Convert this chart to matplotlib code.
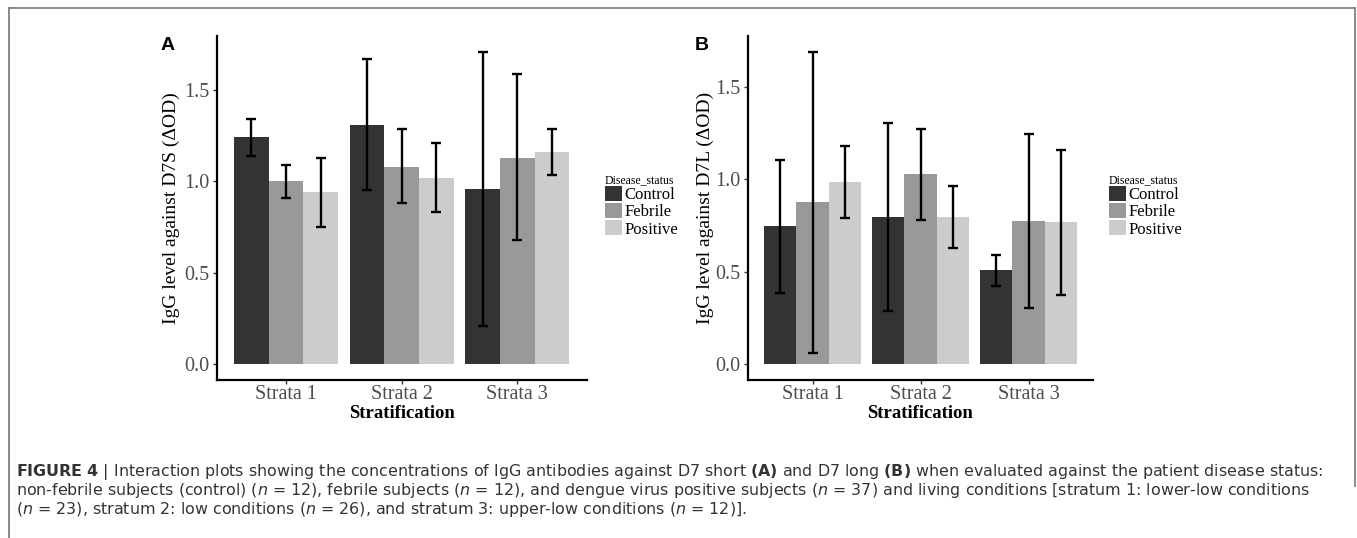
import matplotlib
matplotlib.use("Agg")
import matplotlib.pyplot as plt
import numpy as np
from matplotlib.lines import Line2D

# ---- data ----
strata = ["Strata 1", "Strata 2", "Strata 3"]
groups = ["Control", "Febrile", "Positive"]
colors = ["#333333", "#999999", "#cccccc"]

# D7 short (panel A): mean, lower, upper per group -> per stratum
d7s_mean = {"Control": [1.245, 1.310, 0.960], "Febrile": [1.004, 1.080, 1.130], "Positive": [0.943, 1.020, 1.162]}
d7s_low = {"Control": [1.137, 0.954, 0.212], "Febrile": [0.912, 0.880, 0.681], "Positive": [0.752, 0.834, 1.033]}
d7s_high = {"Control": [1.343, 1.668, 1.710], "Febrile": [1.091, 1.285, 1.588], "Positive": [1.131, 1.208, 1.288]}

# D7 long (panel B)
d7l_mean = {"Control": [0.748, 0.797, 0.510], "Febrile": [0.878, 1.029, 0.775], "Positive": [0.986, 0.797, 0.770]}
d7l_low = {"Control": [0.386, 0.288, 0.424], "Febrile": [0.061, 0.781, 0.306], "Positive": [0.791, 0.629, 0.375]}
d7l_high = {"Control": [1.107, 1.307, 0.591], "Febrile": [1.691, 1.275, 1.246], "Positive": [1.183, 0.966, 1.161]}

caption = [
    r"$\mathbf{FIGURE\ 4}$ | Interaction plots showing the concentrations of IgG antibodies against D7 short "
    r"$\mathbf{(A)}$ and D7 long $\mathbf{(B)}$ when evaluated against the patient disease status:",
    r"non-febrile subjects (control) ($\mathit{n}$ = 12), febrile subjects ($\mathit{n}$ = 12), and dengue virus "
    r"positive subjects ($\mathit{n}$ = 37) and living conditions [stratum 1: lower-low conditions",
    r"($\mathit{n}$ = 23), stratum 2: low conditions ($\mathit{n}$ = 26), and stratum 3: upper-low conditions "
    r"($\mathit{n}$ = 12)].",
]

W, H = 1357, 538
CAP_FONT = "DejaVu Sans"
plt.rcParams.update({
    "mathtext.fontset": "custom",
    "mathtext.rm": CAP_FONT,
    "mathtext.it": CAP_FONT + ":italic",
    "mathtext.bf": CAP_FONT + ":bold",
})
SERIF = "Liberation Serif"
TICK_C = "#4d4d4d"

fig = plt.figure(figsize=(W / 100, H / 100), dpi=100)


def panel(rect, means, lows, highs, ylabel, ylabel_x, letter, letter_x, legend_x):
    aw, ah = rect[2] - rect[0], rect[3] - rect[1]
    ax = fig.add_axes([rect[0] / W, 1 - rect[3] / H, aw / W, ah / H])
    x = np.arange(1, len(strata) + 1)
    bw = 0.3
    handles = []
    for i, g in enumerate(groups):
        xs = x + (i - 1) * bw
        m = np.array(means[g])
        b = ax.bar(xs, m, width=bw, color=colors[i], label=g, zorder=2)
        handles.append(b)
        ax.errorbar(xs, m, yerr=[m - np.array(lows[g]), np.array(highs[g]) - m], fmt="none",
                    ecolor="black", elinewidth=1.7, capsize=3.6, capthick=1.7, zorder=3)
    top = max(max(v) for v in highs.values())
    ax.set_ylim(-0.05 * top, top * 1.05)
    ax.set_xlim(0.4, 3.6)
    ax.set_xticks(x)
    ax.set_xticklabels(strata)
    ax.set_yticks([0, 0.5, 1.0, 1.5])
    ax.set_yticklabels(["0.0", "0.5", "1.0", "1.5"])
    for lab in ax.get_xticklabels() + ax.get_yticklabels():
        lab.set_family(SERIF)
        lab.set_fontsize(14.5)
        lab.set_color(TICK_C)
    ax.tick_params(length=3, width=1, color="#333333", pad=2)
    ax.tick_params(axis="x", pad=0.8)
    ax.spines[["top", "right"]].set_visible(False)
    for s in ["left", "bottom"]:
        ax.spines[s].set_linewidth(1.6)
    ax.set_ylabel(ylabel, family=SERIF, fontsize=14, va="center")
    ax.yaxis.set_label_coords((ylabel_x - rect[0]) / aw, 0.5)
    ax.set_xlabel("Stratification", family=SERIF, fontsize=13.5, fontweight="bold", va="baseline")
    ax.xaxis.set_label_coords(0.5, (rect[3] - 418) / ah)
    fig.text(letter_x / W, 1 - 50 / H, letter, fontsize=14, fontweight="bold",
             family="Liberation Sans", va="baseline")
    leg = ax.legend(handles=handles, title="Disease_status", loc="upper left",
                    bbox_to_anchor=(legend_x / W, 1 - 174 / H), bbox_transform=fig.transFigure,
                    frameon=False, prop={"family": SERIF, "size": 12},
                    handlelength=1.0, handleheight=1.0, labelspacing=0.0, handletextpad=0.15,
                    borderpad=0, borderaxespad=0, alignment="left")
    leg.get_title().set_fontfamily(SERIF)
    leg.get_title().set_fontsize(8.5)
    return ax


panel((216.7, 36, 586.7, 380), d7s_mean, d7s_low, d7s_high,
      "IgG level against D7S (\u0394OD)", 171.7, "A", 161, 605)
panel((747.7, 36, 1093.3, 380), d7l_mean, d7l_low, d7l_high,
      "IgG level against D7L (\u0394OD)", 705.0, "B", 695, 1109)

# caption
for k, line in enumerate(caption):
    fig.text(16 / W, 1 - (476 + 19 * k) / H, line, fontsize=11.45, family=CAP_FONT,
             color="#333333", va="baseline")

# page frame
fc = "#808080"
fig.add_artist(Line2D([9 / W, 1355 / W], [1 - 8 / H, 1 - 8 / H], color=fc, lw=1.3, transform=fig.transFigure))
fig.add_artist(Line2D([9 / W, 9 / W], [1 - 8 / H, 0], color=fc, lw=1.3, transform=fig.transFigure))
fig.add_artist(Line2D([1355 / W, 1355 / W], [1 - 8 / H, 1 - 486 / H], color=fc, lw=1.3, transform=fig.transFigure))

fig.savefig("out.png", dpi=100)
